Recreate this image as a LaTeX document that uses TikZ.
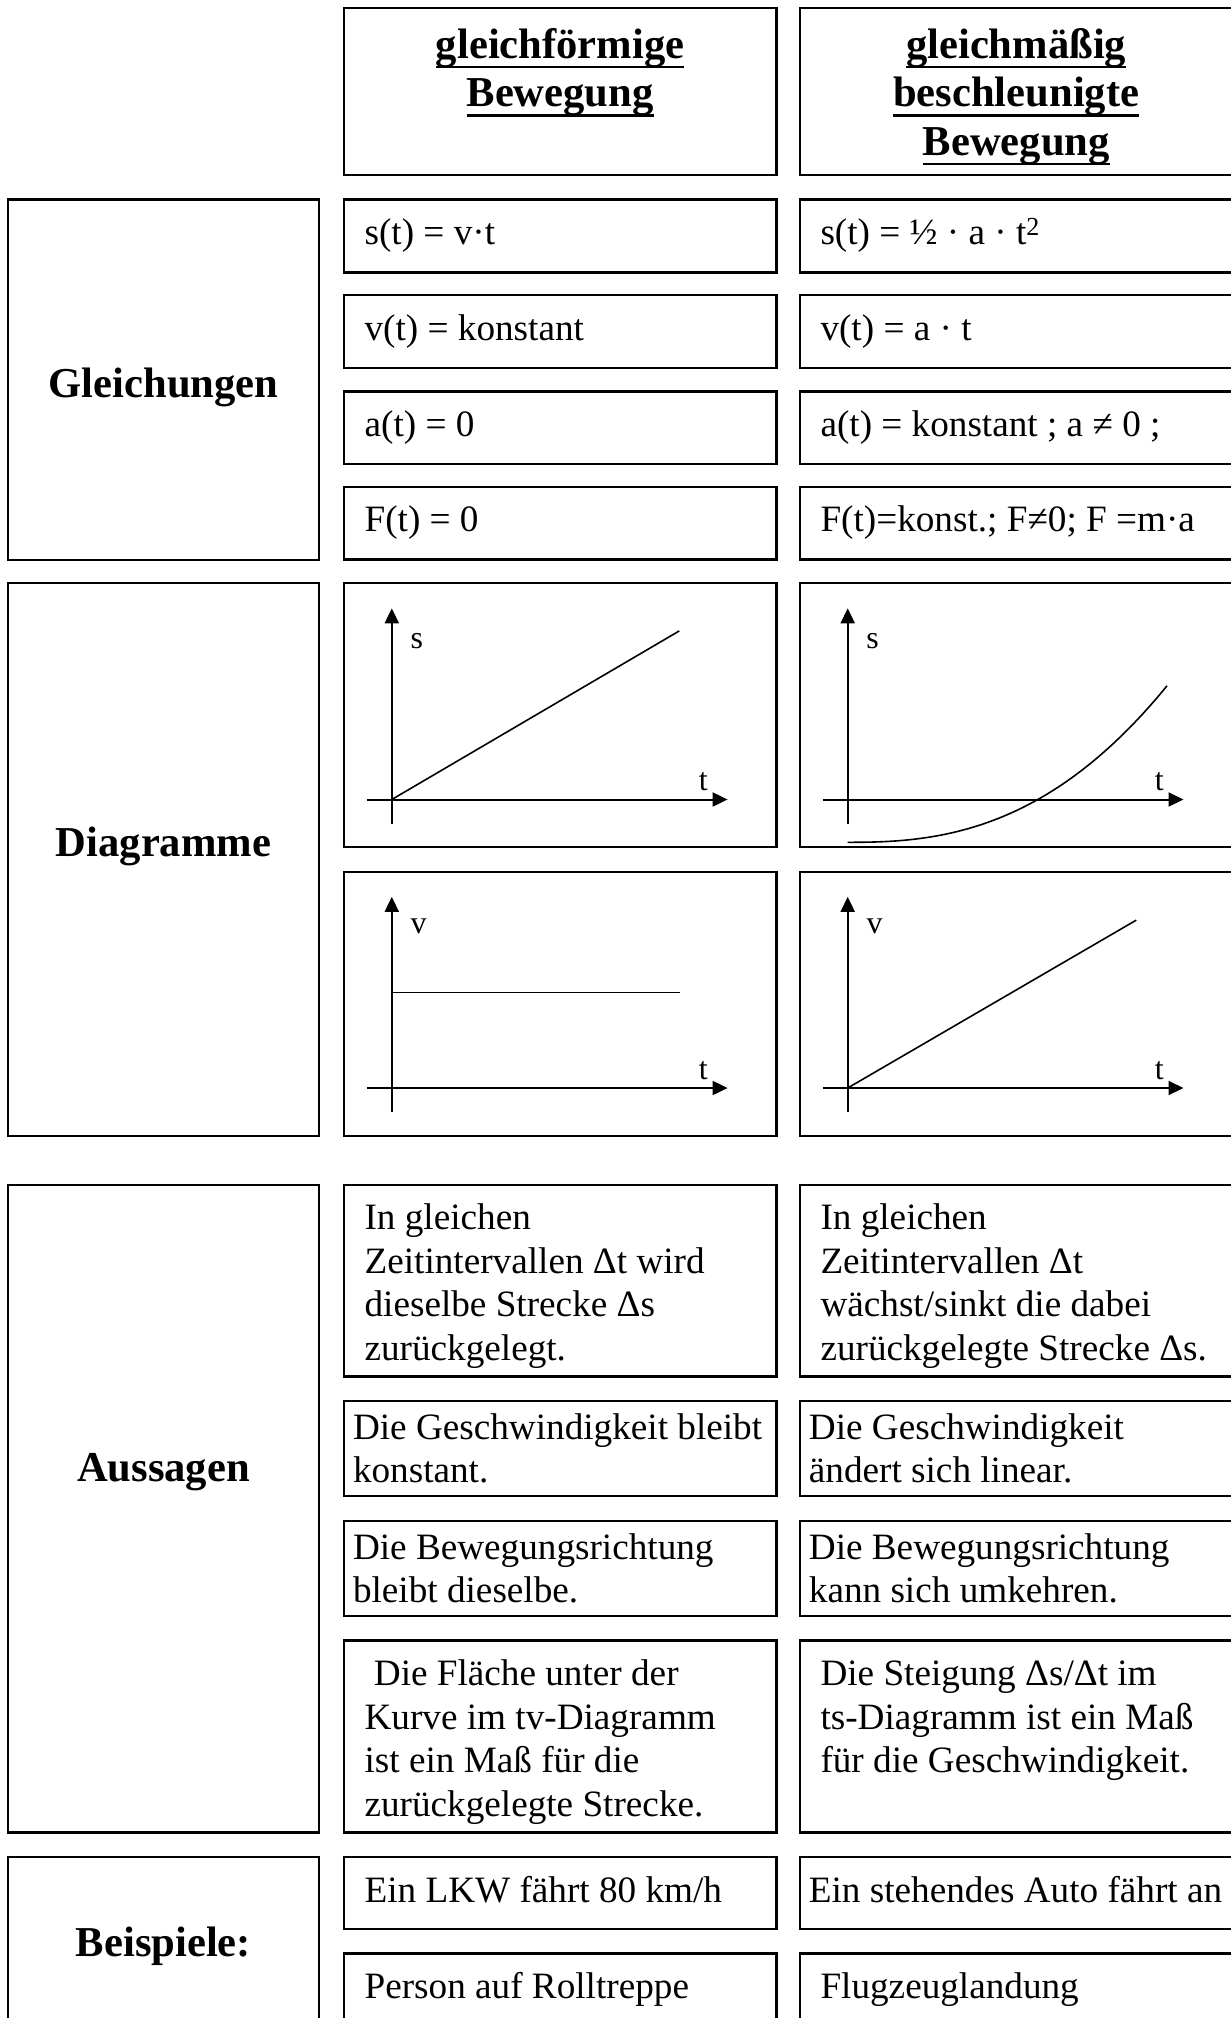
\documentclass[tikz,border=0pt]{standalone}
\usepackage{fontspec}
\setmainfont{Liberation Serif}
\usepackage{tikz}
\usetikzlibrary{arrows.meta}

% unterstrichene Kopfzeile
\newcommand{\headline}[1]{\setbox0\hbox{#1}\rlap{\vrule height -7.5pt depth 10.1pt width \wd0}\box0}

\begin{document}
\begin{tikzpicture}[x=1pt,y=-1pt,
    box/.style={draw, line width=2.3pt, inner sep=0pt, outer sep=0pt, anchor=north west},
    colA/.style={box, minimum width=311.6pt},
    colB/.style={box, minimum width=432.7pt},
    colC/.style={box, minimum width=433pt},
    txt/.style={anchor=north west, inner sep=0pt, align=left, font=\fontsize{37.2}{43.4}\selectfont},
    txtwide/.style={txt, xshift=20.6pt, yshift=-14.6pt},
    txtnarrow/.style={txt, xshift=9pt, yshift=-7.8pt},
    head/.style={anchor=north, align=center, inner sep=0pt, yshift=-16.5pt, font=\fontsize{42.6}{48.5}\selectfont\bfseries},
    rowlab/.style={anchor=base, inner sep=0pt, font=\fontsize{42.6}{48.5}\selectfont\bfseries},
    axis/.style={line width=2pt, -{Triangle[length=15pt,width=14pt]}},
    graph/.style={line width=1.6pt},
    axlab/.style={inner sep=0pt, font=\fontsize{32}{36}\selectfont}]

    \useasboundingbox (0,0) rectangle (1231,2018);
    \clip (0,0) rectangle (1231,2018);

    % Kopfzeile
    \node[colB, minimum height=167.4pt] (hd1) at (343.8,7.7) {};
    \node[colC, minimum height=167.4pt] (hd2) at (799.7,7.7) {};
    \node[head] (hd1t) at (hd1.north) {\strut\headline{gleichförmige}\\\headline{Bewegung}};
    \node[head] (hd2t) at (hd2.north) {\strut\headline{gleichmäßig}\\\headline{beschleunigte}\\\headline{Bewegung}};

    % Gleichungen
    \node[colA, minimum height=360.5pt] (gl) at (7.7,199.6) {};
    \node[rowlab] (glt) at (163.5,397) {Gleichungen};
    \foreach \y/\ta/\tb [count=\i] in {199.6/{s(t) = v·t}/{s(t) = ½ · a · t\textsuperscript{2}},
        294.9/{v(t) = konstant}/{v(t) = a · t},
        391.5/{a(t) = 0}/{a(t) = konstant ; a ≠ 0 ;},
        486.7/{F(t) = 0}/{F(t)=konst.; F≠0; F =m·a}} {
      \node[colB, minimum height=72.8pt] (gl-\i-a) at (343.8,\y) {};
      \node[colC, minimum height=72.8pt] (gl-\i-b) at (799.7,\y) {};
      \node[txtwide] (gl-\i-at) at (gl-\i-a.north west) {\strut\ta};
      \node[txtwide] (gl-\i-bt) at (gl-\i-b.north west) {\strut\tb};
    }

    % Diagramme
    \node[colA, minimum height=552.4pt] (dg) at (7.7,583.3) {};
    \node[rowlab] (dgt) at (163.5,856) {Diagramme};
    \node[colB, minimum height=264pt] (st1) at (343.8,583.3) {};
    \node[colC, minimum height=264pt] (st2) at (799.7,583.3) {};
    \node[colB, minimum height=264pt] (vt1) at (343.8,871.8) {};
    \node[colC, minimum height=264pt] (vt2) at (799.7,871.8) {};
    \foreach \b in {st1,st2,vt1,vt2} {
      \begin{scope}[shift={(\b.north west)}]
        \draw[axis] (48,240.4) -- (48,25);
        \draw[axis] (23,216.2) -- (383.8,216.2);
        \node[axlab] (\b-t) at (359.6,198.5) {t};
      \end{scope}
    }
    \begin{scope}[shift={(st1.north west)}]
      \draw[graph] (48,216.2) -- (335.5,47.6);
      \node[axlab] (st1-s) at (73,58.3) {s};
    \end{scope}
    \begin{scope}[shift={(st2.north west)}]
      \draw[graph] plot[domain=0:3.193, samples=40, smooth] ({48+100*\x},{259-8.59*\x*\x*sqrt(\x)});
      \node[axlab] (st2-s) at (73,58.3) {s};
    \end{scope}
    \begin{scope}[shift={(vt1.north west)}]
      \draw[graph] (48,120.5) -- (336.6,120.5);
      \node[axlab] (vt1-v) at (74.8,54.9) {v};
    \end{scope}
    \begin{scope}[shift={(vt2.north west)}]
      \draw[graph] (48,216.2) -- (336.6,48.3);
      \node[axlab] (vt2-v) at (74.8,54.9) {v};
    \end{scope}

    % Aussagen
    \node[colA, minimum height=647.7pt] (au) at (7.7,1184.7) {};
    \node[rowlab] (aut) at (163.5,1481) {Aussagen};
    \node[colB, minimum height=191.9pt] (au1a) at (343.8,1184.7) {};
    \node[colC, minimum height=191.9pt] (au1b) at (799.7,1184.7) {};
    \node[txtwide] (au1at) at (au1a.north west) {\strut In gleichen\\Zeitintervallen Δt wird\\dieselbe Strecke Δs\\zurückgelegt.};
    \node[txtwide] (au1bt) at (au1b.north west) {\strut In gleichen\\Zeitintervallen Δt\\wächst/sinkt die dabei\\zurückgelegte Strecke Δs.};
    \node[colB, minimum height=95.3pt] (au2a) at (343.8,1401) {};
    \node[colC, minimum height=95.3pt] (au2b) at (799.7,1401) {};
    \node[txtnarrow] (au2at) at (au2a.north west) {\strut Die Geschwindigkeit bleibt\\konstant.};
    \node[txtnarrow] (au2bt) at (au2b.north west) {\strut Die Geschwindigkeit\\ändert sich linear.};
    \node[colB, minimum height=95.2pt] (au3a) at (343.8,1520.9) {};
    \node[colC, minimum height=95.2pt] (au3b) at (799.7,1520.9) {};
    \node[txtnarrow] (au3at) at (au3a.north west) {\strut Die Bewegungsrichtung\\bleibt dieselbe.};
    \node[txtnarrow] (au3bt) at (au3b.north west) {\strut Die Bewegungsrichtung\\kann sich umkehren.};
    \node[colB, minimum height=191.8pt] (au4a) at (343.8,1640.6) {};
    \node[colC, minimum height=191.8pt] (au4b) at (799.7,1640.6) {};
    \node[txtwide] (au4at) at (au4a.north west) {\strut\ Die Fläche unter der\\Kurve im tv-Diagramm\\ist ein Maß für die\\zurückgelegte Strecke.};
    \node[txtwide] (au4bt) at (au4b.north west) {\strut Die Steigung Δs/Δt im\\ts-Diagramm ist ein Maß\\für die Geschwindigkeit.};

    % Beispiele
    \node[colA, minimum height=200pt] (bs) at (7.7,1856.9) {};
    \node[rowlab] (bst) at (163.5,1956) {Beispiele:};
    \node[colB, minimum height=72.1pt] (bs1a) at (343.8,1856.9) {};
    \node[colC, minimum height=72.1pt] (bs1b) at (799.7,1856.9) {};
    \node[txtwide] (bs1at) at (bs1a.north west) {\strut Ein LKW fährt 80 km/h};
    \node[txtwide, xshift=-11.6pt] (bs1bt) at (bs1b.north west) {\strut Ein stehendes Auto fährt an};
    \node[colB, minimum height=100pt] (bs2a) at (343.8,1953.5) {};
    \node[colC, minimum height=100pt] (bs2b) at (799.7,1953.5) {};
    \node[txtwide] (bs2at) at (bs2a.north west) {\strut Person auf Rolltreppe};
    \node[txtwide] (bs2bt) at (bs2b.north west) {\strut Flugzeuglandung};
\end{tikzpicture}
\end{document}
